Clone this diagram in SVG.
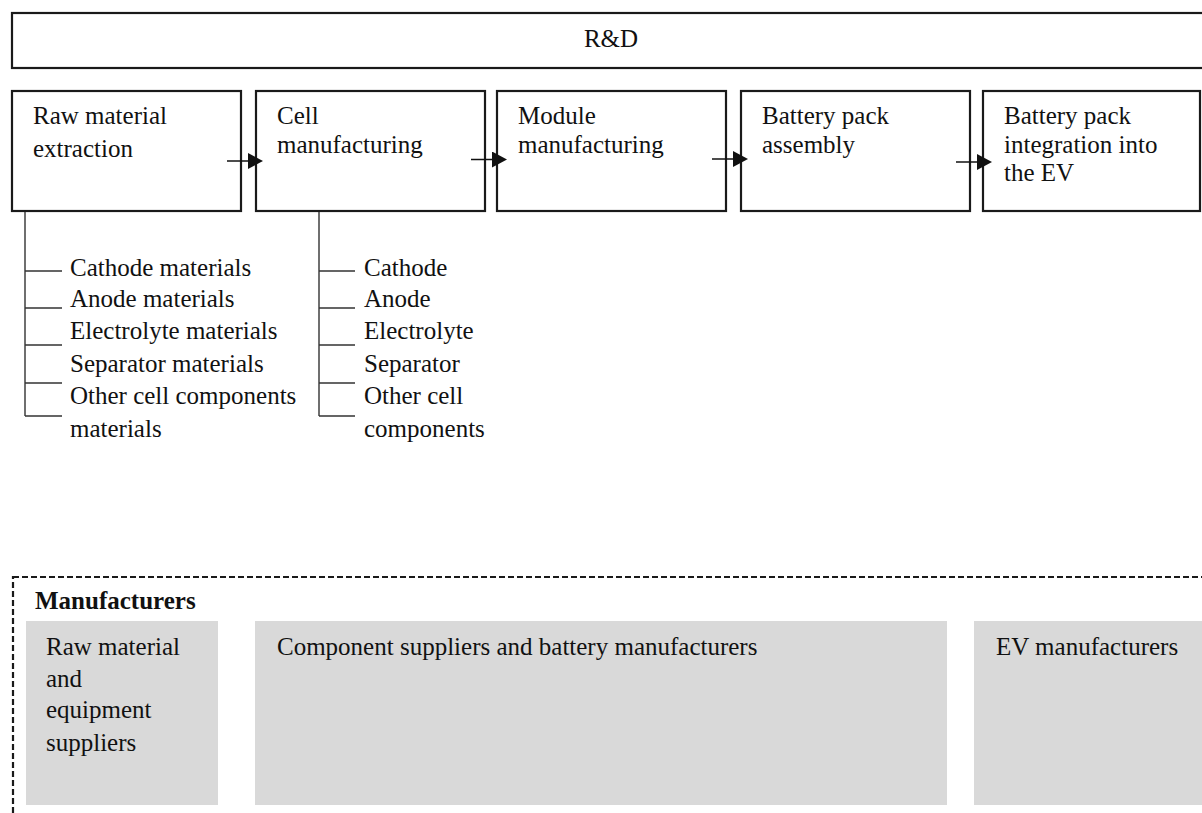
<svg xmlns="http://www.w3.org/2000/svg" width="1202" height="813" viewBox="0 0 1202 813">
  <style>
    text { font-family: "Liberation Serif", "Times New Roman", serif; font-size: 25px; fill: #111; }
    .bold { font-weight: bold; }
    .box { fill: #fff; stroke: #1a1a1a; stroke-width: 2.2; }
    .gray { fill: #d9d9d9; stroke: none; }
    .dash { fill: none; stroke: #1a1a1a; stroke-width: 2.2; stroke-dasharray: 6 3; }
    .tree { fill: none; stroke: #333; stroke-width: 1.4; }
    .flow { stroke: #111; stroke-width: 1.4; fill: none; marker-end: url(#head); }
  </style>
  <defs>
    <marker id="head" viewBox="0 0 15 16" refX="12" refY="8" markerWidth="15" markerHeight="16" markerUnits="userSpaceOnUse" orient="auto">
      <path d="M0,0 L15,8 L0,16 z" fill="#111"/>
    </marker>
  </defs>

  <rect width="1202" height="813" fill="#fff"/>

  <!-- R&D band across the top -->
  <g id="rnd">
    <rect class="box" x="12" y="13" width="1200" height="55"/>
    <text x="611" y="47" text-anchor="middle">R&amp;D</text>
  </g>

  <!-- value chain steps -->
  <g id="raw-material-extraction">
    <rect class="box" x="12" y="91" width="229" height="120"/>
    <text x="33" y="124">Raw material</text>
    <text x="33" y="157">extraction</text>
  </g>
  <g id="cell-manufacturing">
    <rect class="box" x="256" y="91" width="229" height="120"/>
    <text x="277" y="124">Cell</text>
    <text x="277" y="153">manufacturing</text>
  </g>
  <g id="module-manufacturing">
    <rect class="box" x="497" y="91" width="229" height="120"/>
    <text x="518" y="124">Module</text>
    <text x="518" y="153">manufacturing</text>
  </g>
  <g id="battery-pack-assembly">
    <rect class="box" x="741" y="91" width="229" height="120"/>
    <text x="762" y="124">Battery pack</text>
    <text x="762" y="153">assembly</text>
  </g>
  <g id="battery-pack-integration">
    <rect class="box" x="983" y="91" width="217" height="120"/>
    <text x="1004" y="123.5">Battery pack</text>
    <text x="1004" y="152.5">integration into</text>
    <text x="1004" y="180.5">the EV</text>
  </g>

  <!-- sub-item lists -->
  <g id="raw-material-items">
    <text x="70" y="276">Cathode materials</text>
    <text x="70" y="307">Anode materials</text>
    <text x="70" y="339">Electrolyte materials</text>
    <text x="70" y="372">Separator materials</text>
    <text x="70" y="404">Other cell components</text>
    <text x="70" y="437">materials</text>
  </g>
  <g id="cell-items">
    <text x="364" y="276">Cathode</text>
    <text x="364" y="307">Anode</text>
    <text x="364" y="339">Electrolyte</text>
    <text x="364" y="372">Separator</text>
    <text x="364" y="404">Other cell</text>
    <text x="364" y="437">components</text>
  </g>

  <!-- connectors -->
  <g id="connectors">
    <line class="flow" x1="227" y1="161" x2="260" y2="161"/>
    <line class="flow" x1="471" y1="159.5" x2="504" y2="159.5"/>
    <line class="flow" x1="712" y1="159" x2="745" y2="159"/>
    <line class="flow" x1="956" y1="162" x2="989" y2="162"/>
    <path class="tree" d="M25,212 V416 M25,271 H62 M25,308 H62 M25,345 H62 M25,383 H62 M25,416 H62"/>
    <path class="tree" d="M319,212 V416 M319,271 H355 M319,308 H355 M319,345 H355 M319,383 H355 M319,416 H355"/>
  </g>

  <!-- manufacturers panel -->
  <g id="manufacturers">
    <rect class="dash" x="13" y="577" width="1200" height="250"/>
    <text class="bold" x="35" y="609">Manufacturers</text>
  </g>
  <g id="raw-material-suppliers">
    <rect class="gray" x="26" y="621" width="192" height="184"/>
    <text x="46" y="655">Raw material</text>
    <text x="46" y="687">and</text>
    <text x="46" y="718">equipment</text>
    <text x="46" y="751">suppliers</text>
  </g>
  <g id="component-suppliers">
    <rect class="gray" x="255" y="621" width="692" height="184"/>
    <text x="277" y="655">Component suppliers and battery manufacturers</text>
  </g>
  <g id="ev-manufacturers">
    <rect class="gray" x="974" y="621" width="240" height="184"/>
    <text x="996" y="655">EV manufacturers</text>
  </g>
</svg>
